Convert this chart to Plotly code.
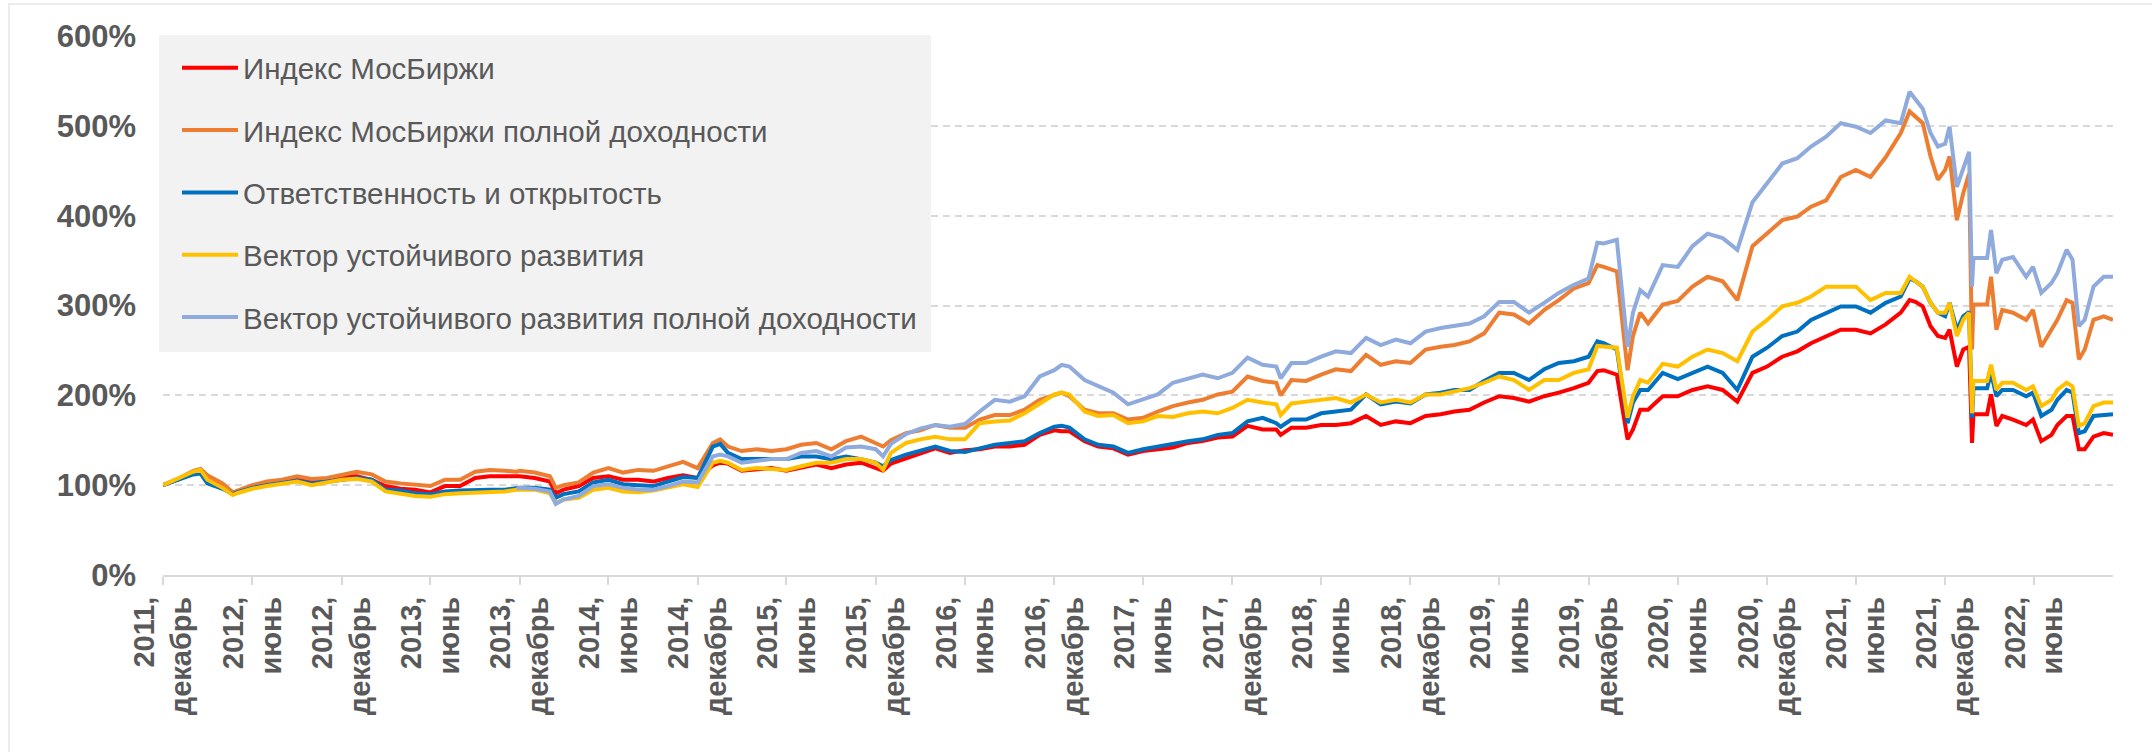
import plotly.graph_objects as go

dates = [
    "2011-12-01", "2012-01-01", "2012-02-01", "2012-02-16", "2012-03-01", "2012-04-01", "2012-04-22", "2012-05-01",
    "2012-06-01", "2012-07-01", "2012-08-01", "2012-09-01", "2012-10-01", "2012-11-01", "2012-12-01",
    "2013-01-01", "2013-02-01", "2013-03-01", "2013-04-01", "2013-05-01", "2013-06-01", "2013-07-01",
    "2013-08-01", "2013-09-01", "2013-10-01", "2013-11-01", "2013-11-25", "2013-12-01",
    "2014-01-01", "2014-02-01", "2014-02-13", "2014-03-01", "2014-04-01", "2014-05-01", "2014-06-01",
    "2014-07-01", "2014-08-01", "2014-09-01", "2014-10-01", "2014-11-01", "2014-12-01",
    "2015-01-01", "2015-01-16", "2015-02-01", "2015-03-01", "2015-04-01", "2015-05-01", "2015-06-01",
    "2015-07-01", "2015-08-01", "2015-09-01", "2015-10-01", "2015-11-01", "2015-12-01", "2015-12-16",
    "2016-01-01", "2016-02-01", "2016-03-01", "2016-04-01", "2016-05-01", "2016-06-01", "2016-07-01",
    "2016-08-01", "2016-09-01", "2016-10-01", "2016-11-01", "2016-12-01", "2016-12-16",
    "2017-01-01", "2017-02-01", "2017-03-01", "2017-04-01", "2017-05-01", "2017-06-01", "2017-07-01",
    "2017-08-01", "2017-09-01", "2017-10-01", "2017-11-01", "2017-12-01",
    "2018-01-01", "2018-02-01", "2018-03-01", "2018-03-10", "2018-04-01", "2018-05-01", "2018-06-01",
    "2018-07-01", "2018-08-01", "2018-09-01", "2018-10-01", "2018-11-01", "2018-12-01",
    "2019-01-01", "2019-02-01", "2019-03-01", "2019-04-01", "2019-05-01", "2019-06-01", "2019-07-01",
    "2019-08-01", "2019-09-01", "2019-10-01", "2019-11-01", "2019-12-01", "2019-12-19",
    "2020-01-01", "2020-01-28", "2020-02-19", "2020-03-01", "2020-03-16", "2020-04-01", "2020-05-01",
    "2020-06-01", "2020-07-01", "2020-08-01", "2020-09-01", "2020-10-01", "2020-11-01", "2020-12-01",
    "2021-01-01", "2021-02-01", "2021-03-01", "2021-04-01", "2021-05-01", "2021-06-01", "2021-07-01",
    "2021-08-01", "2021-09-01", "2021-09-19", "2021-10-01", "2021-10-16", "2021-11-01", "2021-11-16",
    "2021-12-01", "2021-12-10", "2021-12-25", "2022-01-07", "2022-01-19", "2022-01-25", "2022-01-28",
    "2022-02-25", "2022-03-05", "2022-03-16", "2022-03-28", "2022-04-19", "2022-05-16", "2022-05-30",
    "2022-06-16", "2022-07-07", "2022-07-19", "2022-08-07", "2022-08-19", "2022-09-01", "2022-09-13",
    "2022-10-01", "2022-10-22", "2022-11-10",
]

imoex = [
    100, 106, 113, 114, 106, 98, 91, 93, 98, 101, 104, 106, 104, 105, 109,
    110, 106, 99, 96, 95, 92, 99, 99, 108, 110, 110, 109, 110,
    108, 104, 91, 95, 99, 108, 110, 106, 106, 104, 108, 111, 108,
    122, 125, 124, 116, 117, 119, 116, 119, 123, 119, 123, 125, 119, 116,
    124, 130, 136, 141, 136, 139, 140, 143, 143, 145, 156, 161, 160,
    160, 149, 143, 141, 134, 138, 140, 142, 147, 149, 153, 154,
    166, 162, 162, 156, 164, 164, 167, 167, 169, 177, 167, 171, 169,
    177, 179, 182, 184, 192, 199, 197, 193, 199, 203, 208, 214, 227,
    228, 223, 151, 162, 184, 184, 199, 199, 206, 210, 206, 193, 225, 232,
    243, 249, 258, 266, 273, 273, 269, 279, 292, 306, 304, 299, 277, 266,
    264, 273, 232, 251, 254, 147, 179, 179, 201, 166, 177, 173, 167, 173,
    149, 156, 167, 177, 177, 140, 140, 154, 158, 156,
]

imoex_tr = [
    100, 107, 116, 118, 111, 102, 92, 94, 100, 104, 106, 110, 107, 108, 112,
    115, 112, 104, 102, 101, 99, 106, 106, 115, 117, 116, 115, 116,
    114, 110, 97, 100, 103, 114, 119, 114, 117, 116, 121, 126, 119,
    147, 151, 143, 138, 140, 138, 140, 145, 147, 140, 149, 154, 147, 143,
    150, 158, 161, 167, 164, 164, 173, 178, 178, 184, 195, 201, 203,
    199, 184, 180, 180, 173, 175, 182, 188, 192, 195, 201, 204,
    221, 216, 214, 200, 217, 216, 223, 229, 227, 245, 234, 238, 236,
    251, 254, 256, 260, 269, 292, 290, 280, 295, 306, 319, 325, 345,
    343, 338, 228, 266, 292, 280, 301, 305, 321, 332, 327, 306, 366, 380,
    395, 399, 410, 417, 443, 451, 443, 465, 492, 516, 510, 503, 466, 440,
    451, 466, 395, 425, 447, 251, 301, 301, 332, 273, 295, 292, 284, 295,
    254, 273, 284, 306, 303, 240, 251, 284, 288, 284,
]

mrrt = [
    100, 106, 112, 113, 102, 96, 90, 92, 97, 100, 102, 105, 102, 104, 107,
    108, 106, 95, 94, 91, 90, 93, 94, 95, 95, 95, 96, 97,
    97, 95, 86, 90, 93, 103, 106, 101, 100, 99, 104, 109, 108,
    143, 146, 136, 129, 129, 130, 129, 132, 132, 129, 132, 129, 125, 121,
    128, 134, 138, 143, 138, 137, 141, 145, 147, 149, 158, 165, 166,
    164, 151, 145, 143, 136, 140, 143, 145, 149, 151, 156, 158,
    171, 175, 169, 165, 173, 173, 180, 182, 184, 201, 190, 193, 191,
    201, 203, 206, 206, 216, 225, 225, 217, 229, 236, 238, 243, 260,
    258, 251, 169, 192, 206, 206, 225, 218, 225, 232, 225, 206, 243, 253,
    266, 271, 284, 292, 299, 299, 292, 303, 310, 330, 327, 321, 303, 292,
    288, 303, 273, 288, 293, 175, 208, 208, 225, 199, 206, 206, 199, 203,
    177, 184, 195, 206, 203, 158, 160, 177, 178, 179,
]

mesg = [
    100, 107, 115, 117, 106, 97, 89, 91, 96, 99, 101, 104, 100, 103, 106,
    107, 104, 93, 90, 88, 87, 90, 91, 92, 92, 93, 95, 95,
    95, 91, 80, 84, 86, 95, 97, 93, 92, 94, 97, 101, 98,
    125, 127, 125, 117, 119, 118, 117, 121, 125, 125, 129, 129, 125, 117,
    136, 147, 151, 154, 151, 151, 169, 171, 172, 180, 191, 201, 203,
    201, 182, 177, 178, 169, 171, 177, 176, 180, 182, 180, 186,
    195, 192, 190, 178, 191, 193, 195, 197, 192, 201, 192, 195, 192,
    201, 201, 204, 208, 214, 221, 217, 206, 217, 217, 225, 229, 255,
    254, 253, 175, 199, 217, 214, 235, 232, 243, 251, 247, 238, 271, 284,
    299, 303, 310, 321, 321, 321, 306, 314, 314, 332, 327, 321, 303, 292,
    292, 303, 266, 284, 292, 180, 216, 216, 234, 206, 214, 214, 206, 210,
    188, 195, 206, 214, 210, 166, 169, 188, 192, 192,
]

mesg_tr = [
    None, None, None, None, None, None, None, None, None, None, None, None, None, None, None,
    None, None, None, None, None, None, None, None, None, None, None, 96, 97,
    96, 93, 79, 84, 88, 99, 101, 97, 95, 95, 99, 104, 103,
    132, 134, 132, 125, 127, 129, 129, 136, 138, 132, 142, 143, 140, 132,
    146, 157, 163, 167, 165, 168, 182, 195, 193, 199, 221, 228, 234,
    232, 217, 210, 203, 190, 195, 201, 214, 219, 223, 219, 225,
    242, 234, 232, 219, 236, 236, 243, 249, 247, 264, 256, 262, 258,
    271, 275, 277, 280, 288, 304, 304, 292, 303, 314, 323, 330, 370,
    369, 373, 254, 292, 317, 310, 345, 343, 366, 380, 375, 362, 415, 436,
    458, 464, 477, 488, 503, 499, 492, 506, 503, 538, 529, 519, 492, 477,
    480, 499, 432, 454, 471, 321, 353, 353, 384, 336, 351, 354, 332, 343,
    314, 325, 336, 362, 351, 277, 284, 321, 332, 332,
]

series_names = [
    "Индекс МосБиржи",
    "Индекс МосБиржи полной доходности",
    "Ответственность и открытость",
    "Вектор устойчивого развития",
    "Вектор устойчивого развития полной доходности",
]
series_colors = ["#FF0000", "#ED7D31", "#0070C0", "#FFC000", "#8FAADC"]
series_values = [imoex, imoex_tr, mrrt, mesg, mesg_tr]

tick_dates = []
tick_texts = []
for yr in range(2011, 2023):
    if yr > 2011:
        tick_dates.append(f"{yr}-06-01")
        tick_texts.append(f"{yr},<br>июнь")
    if yr < 2022:
        tick_dates.append(f"{yr}-12-01")
        tick_texts.append(f"{yr},<br>декабрь")

y_ticks = [0, 100, 200, 300, 400, 500, 600]
y_tick_texts = ["0%", "100%", "200%", "300%", "400%", "500%", "600%"]

FONT = "Liberation Sans, Arial, sans-serif"
GRAY = "#595959"
GRID = "#D9D9D9"

fig = go.Figure()
for name, color, vals in zip(series_names, series_colors, series_values):
    fig.add_trace(go.Scatter(
        x=dates, y=vals, name=name, mode="lines",
        line=dict(color=color, width=4), legendgroup=name,
        connectgaps=False,
    ))

W, H = 2152, 752
L, R, T, B = 163, 39, 36, 177
pw, ph = W - L - R, H - T - B

def px_x(x):
    return (x - L) / pw

def px_y(y):
    return (H - B - y) / ph

fig.update_layout(
    width=W, height=H,
    margin=dict(l=L, r=R, t=T, b=B, autoexpand=False),
    paper_bgcolor="white", plot_bgcolor="white",
    font=dict(family=FONT, color=GRAY),
    showlegend=True,
    legend=dict(
        x=px_x(177), y=px_y(42), xanchor="left", yanchor="top",
        bgcolor="rgba(0,0,0,0)", borderwidth=0,
        font=dict(family=FONT, size=29.5, color=GRAY),
        tracegroupgap=21, itemwidth=56,
    ),
    xaxis=dict(
        type="date", range=["2011-12-01", "2022-11-10"],
        tickmode="array", tickvals=tick_dates, ticktext=tick_texts,
        tickangle=-90, tickfont=dict(family=FONT, size=29, color=GRAY, weight="bold"),
        showgrid=False, zeroline=False,
        showline=True, linecolor=GRID, linewidth=2,
        ticks="outside", ticklen=8, tickcolor=GRID, tickwidth=1.5,
    ),
    yaxis=dict(
        range=[0, 600], tickmode="array", tickvals=y_ticks, ticktext=y_tick_texts,
        tickfont=dict(family=FONT, size=31, color=GRAY, weight="bold"),
        showgrid=True, gridcolor=GRID, gridwidth=1.5, griddash="7px,5px",
        zeroline=False, showline=False, ticks="", ticklabelstandoff=26,
    ),
    shapes=[
        dict(type="rect", xref="paper", yref="paper",
             x0=px_x(159), x1=px_x(931), y0=px_y(352), y1=px_y(35),
             fillcolor="#F2F2F2", line=dict(width=0), layer="above"),
        dict(type="rect", xref="paper", yref="paper",
             x0=px_x(9), x1=px_x(2170), y0=px_y(770), y1=px_y(4),
             fillcolor="rgba(0,0,0,0)", line=dict(color="#E6E6E6", width=1.5), layer="below"),
    ],
)

fig.write_html("out.html", config={"displayModeBar": False},
               post_script="document.body.style.margin='0';")
